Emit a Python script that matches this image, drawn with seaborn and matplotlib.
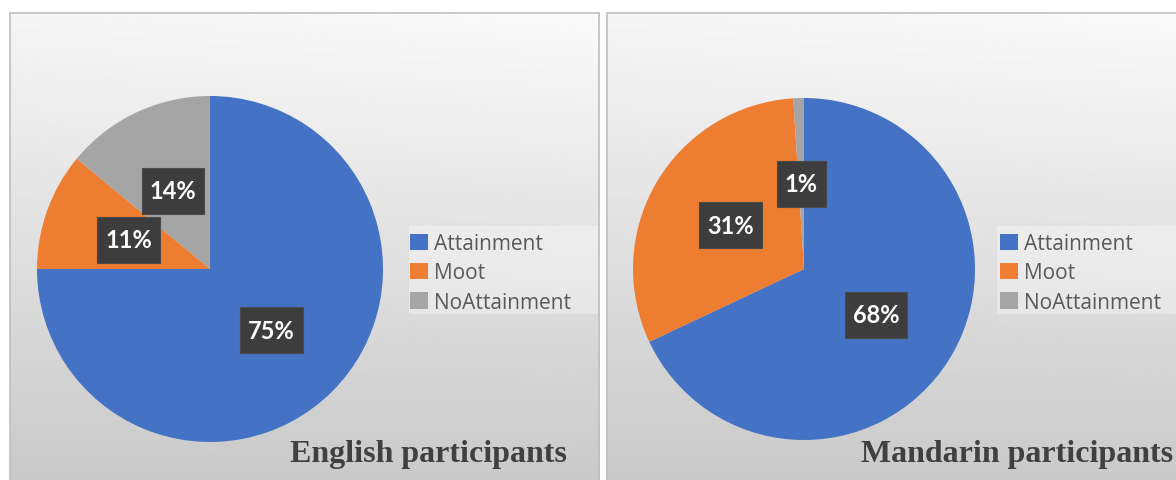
import numpy as np
import matplotlib
matplotlib.use("Agg")
import matplotlib.pyplot as plt
from matplotlib.patches import Rectangle
import seaborn as sns

# ---- data ----
categories = ["Attainment", "Moot", "NoAttainment"]
english_pct = [75, 11, 14]
mandarin_pct = [68, 31, 1]
panel_titles = ["English participants", "Mandarin participants"]

sns.set_theme(style="white")
palette = sns.color_palette(["#4472C4", "#ED7D31", "#A5A5A5"])

W, H = 1176, 481
fig = plt.figure(figsize=(W / 100, H / 100), dpi=100)
fig.patch.set_facecolor("white")


def rect(x0, y0, x1, y1):
    """Pixel box (top-left origin) -> figure fraction [l, b, w, h]."""
    return [x0 / W, 1 - y1 / H, (x1 - x0) / W, (y1 - y0) / H]


def panel_background(x0, y0, x1, y1, legend_box):
    ax = fig.add_axes(rect(x0, y0, x1, y1))
    ax.set_xlim(0, 1)
    ax.set_ylim(0, 1)
    yy, xx = np.mgrid[0:1:300j, 0:1:300j]
    # light at the top (slightly lighter towards the right), grey at the bottom
    g = 0.962 - 0.175 * (1 - yy) + 0.02 * xx * yy
    ax.imshow(g, extent=(0, 1, 0, 1), origin="lower", cmap="gray",
              vmin=0, vmax=1, aspect="auto", interpolation="bilinear")
    lx0, ly0, lx1, ly1 = legend_box
    ax.add_patch(Rectangle(((lx0 - x0) / (x1 - x0), 1 - (ly1 - y0) / (y1 - y0)),
                           (lx1 - lx0) / (x1 - x0), (ly1 - ly0) / (y1 - y0),
                           facecolor="white", alpha=0.35, edgecolor="none"))
    ax.axis("off")
    fig.add_artist(Rectangle((x0 / W, 1 - y1 / H), (x1 - x0) / W, (y1 - y0) / H,
                             transform=fig.transFigure, fill=False,
                             edgecolor="#bfbfbf", linewidth=1.2))
    return ax


label_texts = []


def pie_panel(cx, cy, r, values, legend_xy, title, title_right):
    ax = fig.add_axes(rect(cx - r, cy - r, cx + r, cy + r))
    wedges, _, autotexts = ax.pie(
        values, colors=palette, startangle=90, counterclock=False,
        autopct="%.0f%%", pctdistance=0.5,
        wedgeprops=dict(linewidth=0),
        textprops=dict(color="white", fontsize=17, fontweight="bold",
                       family="Lato", zorder=5))
    label_texts.extend(autotexts)
    ax.set_xlim(-1, 1)
    ax.set_ylim(-1, 1)
    ax.set_aspect("equal")
    ax.axis("off")

    lx, ly = legend_xy
    fig.legend(wedges, categories, loc="upper left",
               bbox_to_anchor=(lx / W, 1 - ly / H), frameon=False,
               prop=dict(family="Open Sans", size=15),
               labelcolor="#595959", handlelength=0.87, handleheight=0.82,
               handletextpad=0.3, labelspacing=0.4, borderpad=0,
               borderaxespad=0)

    fig.text(title_right / W, 1 - 462 / H, title, ha="right", va="baseline",
             family="Liberation Serif", fontweight="bold", fontsize=23,
             color="#404040")


panel_background(9.5, 13.5, 599.5, 490, legend_box=(409, 227, 600, 315))
panel_background(607, 13.5, 1190, 490, legend_box=(997, 227, 1190, 315))

pie_panel(210, 270, 173, english_pct, (410, 234), panel_titles[0], 567)
pie_panel(804, 270, 171, mandarin_pct, (1000, 234), panel_titles[1], 1173)

# dark label boxes: width follows the text, height is fixed
fig.canvas.draw()
renderer = fig.canvas.get_renderer()
PAD_X, BOX_H = 8, 46
for t in label_texts:
    bb = t.get_window_extent(renderer)
    xc = (bb.x0 + bb.x1) / 2
    yc = (bb.y0 + bb.y1) / 2
    w = bb.width + 2 * PAD_X
    fig.add_artist(Rectangle(((xc - w / 2) / W, (yc - BOX_H / 2) / H),
                             w / W, BOX_H / H, transform=fig.transFigure,
                             facecolor="#3d3d3d", edgecolor="#4a4a4a",
                             linewidth=0.8, zorder=4))
    # move text onto the figure so it sits above the box
    t.set_zorder(6)
    t.remove()
    fig.add_artist(t)
    t.set_transform(fig.transFigure)
    t.set_position((xc / W, yc / H))
    t.set_ha("center")
    t.set_va("center")

fig.savefig("out.png", dpi=100)
